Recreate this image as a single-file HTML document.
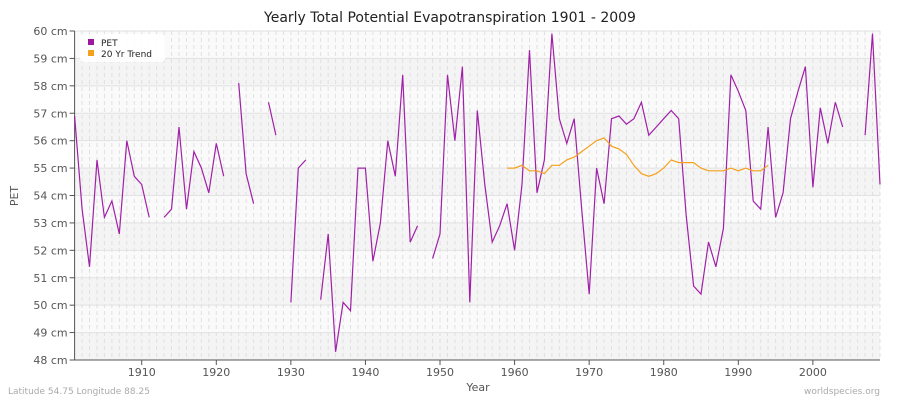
<!DOCTYPE html>
<html><head><meta charset="utf-8"><style>
body{margin:0;background:#fff;font-family:"Liberation Sans","DejaVu Sans",sans-serif;}
svg text{font-family:"DejaVu Sans","Liberation Sans",sans-serif;}
</style></head><body>
<svg id="chart" width="900" height="400" xmlns="http://www.w3.org/2000/svg">
<text x="450" y="22" text-anchor="middle" font-size="14" fill="#222">Yearly Total Potential Evapotranspiration 1901 - 2009</text>
<g id="bands"></g><g id="grid"></g><g id="axes"></g><g id="series"></g>
<text x="18" y="196" font-size="11" fill="#555" text-anchor="middle" transform="rotate(-90 18 196)">PET</text>
<text x="478" y="391" font-size="11" fill="#555" text-anchor="middle">Year</text>
<text x="8" y="394" font-size="9" fill="#aaa">Latitude 54.75 Longitude 88.25</text>
<text x="880" y="394" font-size="9" fill="#aaa" text-anchor="end">worldspecies.org</text>
<g>
<rect x="80" y="34" width="85" height="28" rx="4" fill="#fff" opacity="0.9"/>
<rect x="88" y="39" width="6" height="6" fill="#9b189f"/>
<text x="101" y="46" font-size="9" fill="#222">PET</text>
<rect x="88" y="50" width="6" height="6" fill="#f5a01b"/>
<text x="101" y="57" font-size="9" fill="#222">20 Yr Trend</text>
</g>
</svg>
<script>
const years=[];for(let y=1901;y<=2009;y++)years.push(y);
const petValues=[56.9,53.5,51.4,55.3,53.2,53.8,52.6,56.0,54.7,54.4,53.2,null,53.2,53.5,56.5,53.5,55.6,55.0,54.1,55.9,54.7,null,58.1,54.8,53.7,null,57.4,56.2,null,50.1,55.0,55.3,null,50.2,52.6,48.3,50.1,49.8,55.0,55.0,51.6,53.0,56.0,54.7,58.4,52.3,52.9,null,51.7,52.6,58.4,56.0,58.7,50.1,57.1,54.4,52.3,52.9,53.7,52.0,54.4,59.3,54.1,55.3,59.9,56.8,55.9,56.8,53.5,50.4,55.0,53.7,56.8,56.9,56.6,56.8,57.4,56.2,56.5,56.8,57.1,56.8,53.3,50.7,50.4,52.3,51.4,52.8,58.4,57.8,57.1,53.8,53.5,56.5,53.2,54.1,56.8,57.8,58.7,54.3,57.2,55.9,57.4,56.5,null,null,56.2,59.9,54.4];
const trendStart=1959;
const trendValues=[55.0,55.0,55.1,54.9,54.9,54.8,55.1,55.1,55.3,55.4,55.6,55.8,56.0,56.1,55.8,55.7,55.5,55.1,54.8,54.7,54.8,55.0,55.3,55.2,55.2,55.2,55.0,54.9,54.9,54.9,55.0,54.9,55.0,54.9,54.9,55.1];
const yTicks=[48,49,50,51,52,53,54,55,56,57,58,59,60];
const xTicks=[1910,1920,1930,1940,1950,1960,1970,1980,1990,2000];
const L=74.6,R=880,T=31,B=360;
const x=v=>L+(v-1901)*(R-L)/108;
const y=v=>B-(v-48)*(B-T)/12;
const NS='http://www.w3.org/2000/svg';
function mk(tag,parent){const e=document.createElementNS(NS,tag);document.getElementById(parent).appendChild(e);return e;}
for(let i=0;i<12;i++){const r=mk('rect','bands');


r.setAttribute('x',L);r.setAttribute('width',R-L);r.setAttribute('y',y(49+i));r.setAttribute('height',y(48+i)-y(49+i));r.setAttribute('fill',i%2===0?'#f4f4f4':'#fafafa');}
for(const t of yTicks){const l=mk('line','grid');


l.setAttribute('x1',L);l.setAttribute('x2',R);l.setAttribute('y1',y(t));l.setAttribute('y2',y(t));l.setAttribute('stroke','#e2e2e2');}
for(const yr of years){const l=mk('line','grid');


l.setAttribute('x1',x(yr));l.setAttribute('x2',x(yr));l.setAttribute('y1',T);l.setAttribute('y2',B);l.setAttribute('stroke','#e0e0e0');l.setAttribute('stroke-dasharray','4,3');}
const ax=mk('path','axes');


ax.setAttribute('d',`M${L},${T}V${B}H${R}`);ax.setAttribute('stroke','#555');ax.setAttribute('fill','none');
for(const t of yTicks){const tk=mk('line','axes');


tk.setAttribute('x1',L-5);tk.setAttribute('x2',L);tk.setAttribute('y1',y(t));tk.setAttribute('y2',y(t));tk.setAttribute('stroke','#555');
const tx=mk('text','axes');


tx.setAttribute('x',L-7);tx.setAttribute('y',y(t)+4);tx.setAttribute('text-anchor','end');tx.setAttribute('font-size','11');tx.setAttribute('fill','#555');tx.textContent=t+' cm';}
for(const t of xTicks){const tk=mk('line','axes');


tk.setAttribute('x1',x(t));tk.setAttribute('x2',x(t));tk.setAttribute('y1',B);tk.setAttribute('y2',B+5);tk.setAttribute('stroke','#555');
const tx=mk('text','axes');


tx.setAttribute('x',x(t));tx.setAttribute('y',B+16);tx.setAttribute('text-anchor','middle');tx.setAttribute('font-size','11');tx.setAttribute('fill','#555');tx.textContent=t;}
let d='',pen=false;
petValues.forEach((v,i)=>{if(v===null){pen=false;return;}d+=(pen?'L':'M')+x(years[i]).toFixed(1)+','+y(v).toFixed(1);pen=true;});
const p=mk('path','series');


p.setAttribute('d',d);p.setAttribute('stroke','#a020a8');p.setAttribute('stroke-width','1.2');p.setAttribute('fill','none');
let d2='';trendValues.forEach((v,i)=>{d2+=(i?'L':'M')+x(trendStart+i).toFixed(1)+','+y(v).toFixed(1);});
const p2=mk('path','series');


p2.setAttribute('d',d2);p2.setAttribute('stroke','#f5a01b');p2.setAttribute('stroke-width','1.2');p2.setAttribute('fill','none');
</script>
</body></html>
